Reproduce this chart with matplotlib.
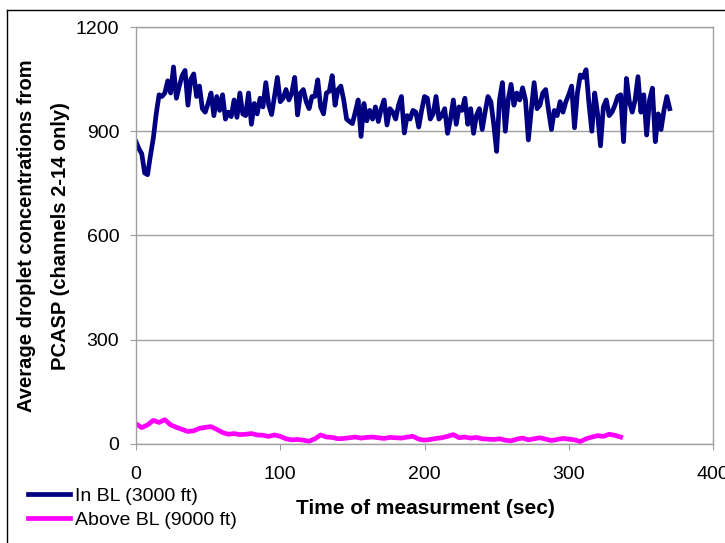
import numpy as np
import matplotlib
matplotlib.use("Agg")
import matplotlib.pyplot as plt
from matplotlib.lines import Line2D

plt.rcParams['font.family'] = ['Liberation Sans', 'DejaVu Sans']

# PCASP concentrations, in BL (3000 ft), one value every 2 s
in_bl = [870, 850, 835, 780, 775, 830, 880, 950, 1005, 1000,
         1010, 1045, 1010, 1085, 995, 1030, 1060, 1075, 975, 1050,
         1065, 1000, 1030, 965, 955, 980, 1010, 945, 1000, 960,
         1005, 935, 955, 942, 990, 940, 1010, 950, 945, 1010,
         920, 980, 950, 995, 970, 1040, 975, 948, 1000, 1055,
         985, 995, 1020, 990, 1010, 1055, 947, 1010, 1020, 985,
         965, 1000, 1000, 1048, 970, 950, 1010, 1015, 1060, 975,
         1020, 1030, 990, 935, 928, 922, 955, 990, 885, 980,
         930, 960, 935, 970, 928, 965, 990, 918, 965, 955,
         935, 975, 1000, 895, 945, 935, 960, 955, 912, 960,
         1000, 995, 935, 950, 1000, 935, 945, 965, 894, 935,
         990, 920, 970, 960, 995, 920, 965, 894, 945, 965,
         905, 955, 1000, 985, 920, 842, 990, 1040, 900, 990,
         1035, 975, 1010, 990, 1025, 990, 875, 960, 1040, 965,
         975, 1010, 1020, 960, 905, 960, 945, 985, 955, 985,
         1005, 1030, 910, 1010, 1062, 1055, 1077, 980, 900, 1010,
         950, 858, 970, 990, 945, 955, 975, 1000, 1005, 870,
         1052, 985, 955, 990, 1057, 955, 1005, 889, 990, 1024,
         870, 950, 905, 960, 1000, 965]
t_bl = list(range(0, 2 * len(in_bl), 2))

# above BL (9000 ft), one value every 4 s
above_bl = [58, 47, 55, 68, 62, 70, 55, 48, 42, 36,
            38, 45, 48, 50, 42, 33, 28, 30, 27, 28,
            30, 26, 25, 22, 26, 22, 15, 12, 13, 11,
            8, 15, 26, 20, 19, 15, 16, 18, 20, 17,
            19, 20, 18, 16, 19, 18, 17, 20, 22, 14,
            11, 13, 16, 18, 22, 27, 18, 20, 17, 19,
            15, 14, 13, 15, 11, 9, 14, 17, 12, 15,
            18, 14, 10, 13, 16, 14, 12, 7, 15, 20,
            24, 22, 28, 25, 20]
t_above = list(range(0, 4 * len(above_bl), 4))

labels = ['In BL (3000 ft)', 'Above BL (9000 ft)']
colors = ['#000080', '#FF00FF']
xticks = [0, 100, 200, 300, 400]
yticks = [0, 300, 600, 900, 1200]

W, H = 725, 543
fig = plt.figure(figsize=(W / 100, H / 100), dpi=100)
ax = fig.add_axes([136 / W, 1 - 444 / H, (713 - 136) / W, (444 - 27) / H])

l1, = ax.plot(t_bl, in_bl, color=colors[0], lw=3.4, solid_joinstyle='round')
l2, = ax.plot(t_above, above_bl, color=colors[1], lw=3.4, solid_joinstyle='round')

ax.set_xlim(0, 400)
ax.set_ylim(0, 1200)
ax.set_xticks(xticks)
ax.set_yticks(yticks)
ax.yaxis.grid(True, color='#a0a0a0', lw=1)
ax.set_axisbelow(True)
for s in ax.spines.values():
    s.set_color('#a0a0a0')
    s.set_linewidth(1)
ax.tick_params(axis='both', direction='out', length=4, color='#a0a0a0',
               labelsize=14)
ax.tick_params(axis='y', pad=8)
ax.tick_params(axis='x', pad=12)

# y label (two lines) and x label
fig.text(27 / W, 1 - 236 / H, 'Average droplet concentrations from',
         rotation=90, ha='center', va='center', fontsize=14.5, fontweight='bold')
fig.text(61 / W, 1 - 236 / H, 'PCASP (channels 2-14 only)',
         rotation=90, ha='center', va='center', fontsize=14.5, fontweight='bold')
fig.text(425 / W, 1 - 509 / H, 'Time of measurment (sec)',
         ha='center', va='center', fontsize=15, fontweight='bold')

fig.legend([l1, l2], labels, loc='upper left', bbox_to_anchor=(28 / W, 1 - 487 / H),
           frameon=False, fontsize=14, handlelength=2.15, handletextpad=0.25,
           labelspacing=0.35, borderaxespad=0, borderpad=0)

# outer chart border (partly cut off)
fig.add_artist(Line2D([7 / W, 7 / W], [0, 1 - 10 / H], transform=fig.transFigure,
                      color='black', lw=1))
fig.add_artist(Line2D([7 / W, 1], [1 - 10 / H, 1 - 10 / H], transform=fig.transFigure,
                      color='black', lw=1))

fig.savefig('out.png', dpi=100)
